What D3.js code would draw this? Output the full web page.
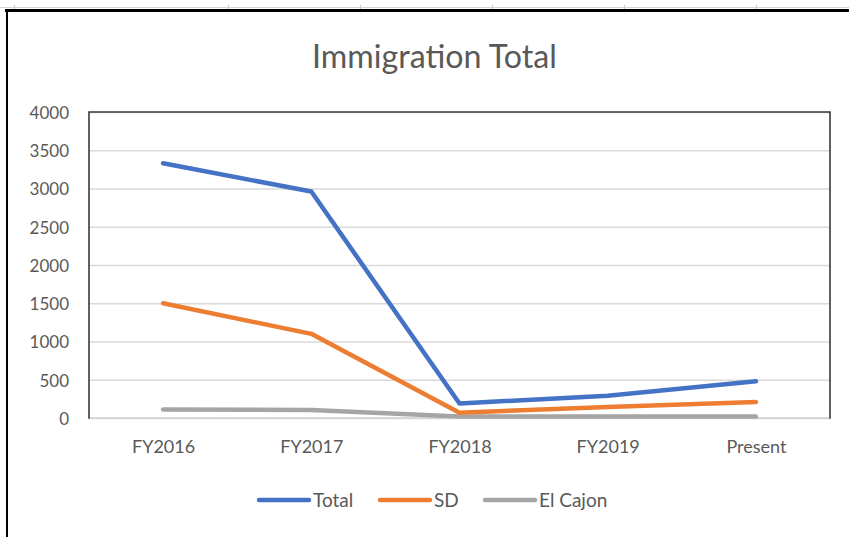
<!DOCTYPE html>
<html>
<head>
<meta charset="utf-8">
<script src="https://cdn.jsdelivr.net/npm/d3@7"></script>
<style>
  html, body { margin: 0; padding: 0; background: #fff; }
  svg { display: block; }
  text { font-family: Lato, "Open Sans", sans-serif; fill: #595959; }
</style>
</head>
<body>
<svg id="chart" width="849" height="537"></svg>
<script>
const categories = ["FY2016", "FY2017", "FY2018", "FY2019", "Present"];
const totalValues = [3330, 2960, 190, 290, 480];
const sdValues = [1500, 1100, 70, 145, 210];
const elCajonValues = [110, 105, 20, 20, 20];
const yTicks = [0, 500, 1000, 1500, 2000, 2500, 3000, 3500, 4000];
const seriesNames = ["Total", "SD", "El Cajon"];
const seriesColors = ["#4472C4", "#ED7D31", "#A5A5A5"];
const titleText = "Immigration Total";

const series = [totalValues, sdValues, elCajonValues].map((v, i) => ({
  name: seriesNames[i], color: seriesColors[i], values: v
}));

const svg = d3.select("#chart");
const W = 849, H = 537;
const plot = { left: 89, right: 830, top: 112, bottom: 418 };

// spreadsheet background marks
svg.append("line").attr("x1", 0).attr("x2", W).attr("y1", 7.5).attr("y2", 7.5)
  .attr("stroke", "#d4d4d4").attr("stroke-width", 1);
[14, 228, 360, 492, 624, 756].forEach(x => {
  svg.append("line").attr("x1", x + 0.5).attr("x2", x + 0.5).attr("y1", 5).attr("y2", 9)
    .attr("stroke", "#c8c8c8").attr("stroke-width", 1);
});
// chart frame (top thick, left)
svg.append("line").attr("x1", 5).attr("x2", W).attr("y1", 10.5).attr("y2", 10.5)
  .attr("stroke", "#000").attr("stroke-width", 3);
svg.append("line").attr("x1", 7).attr("x2", 7).attr("y1", 9).attr("y2", H)
  .attr("stroke", "#000").attr("stroke-width", 2);

const x = d3.scalePoint().domain(categories)
  .range([plot.left, plot.right]).padding(0.5);
const y = d3.scaleLinear().domain([0, 4000]).range([plot.bottom, plot.top]);

// gridlines
const grid = svg.append("g")
  .attr("transform", `translate(${plot.left},0)`)
  .call(d3.axisLeft(y).tickValues(yTicks).tickSize(-(plot.right - plot.left)).tickFormat(""));
grid.select(".domain").remove();
grid.selectAll(".tick line").attr("stroke", "#d9d9d9").attr("stroke-width", 1.3);

// y tick labels
const yAxis = svg.append("g")
  .attr("transform", `translate(${plot.left - 20},0)`)
  .call(d3.axisLeft(y).tickValues(yTicks).tickSize(0).tickPadding(0).tickFormat(d3.format("d")));
yAxis.select(".domain").remove();
yAxis.selectAll("text").attr("font-size", 17).attr("fill", "#595959")
  .attr("font-family", "Lato, sans-serif").attr("dy", "0.38em");

// x tick labels
const xAxis = svg.append("g")
  .attr("transform", `translate(0,${plot.bottom})`)
  .call(d3.axisBottom(x).tickSize(0).tickPadding(0));
xAxis.select(".domain").remove();
xAxis.selectAll("text").attr("font-size", 18).attr("fill", "#595959")
  .attr("font-family", "Lato, sans-serif").attr("dy", null).attr("y", 35);

// plot border: dark on top, left, right; light category axis at bottom
svg.append("line").attr("x1", plot.left).attr("x2", plot.right)
  .attr("y1", plot.bottom).attr("y2", plot.bottom)
  .attr("stroke", "#d0d0d0").attr("stroke-width", 1.6);
svg.append("path")
  .attr("d", `M${plot.left},${plot.bottom + 0.8}V${plot.top}H${plot.right}V${plot.bottom + 0.8}`)
  .attr("fill", "none").attr("stroke", "#3a3a3a").attr("stroke-width", 1.6);

// lines
const line = d3.line().x((d, i) => x(categories[i])).y(d => y(d));
svg.append("g").selectAll("path").data(series.slice().reverse()).join("path")
  .attr("d", d => line(d.values))
  .attr("fill", "none").attr("stroke", d => d.color)
  .attr("stroke-width", 4.5).attr("stroke-linecap", "round").attr("stroke-linejoin", "round");

// title
const title = svg.append("text").attr("x", 434.5).attr("y", 68)
  .attr("text-anchor", "middle").attr("font-size", 30).attr("fill", "#595959")
  .text(titleText);
const tw = title.node().getComputedTextLength();
title.attr("font-size", 30 * 245 / tw);

// legend
const legendX = [259, 380, 485];
const lg = svg.append("g").selectAll("g").data(series).join("g")
  .attr("transform", (d, i) => `translate(${legendX[i]},500)`);
lg.append("line").attr("x1", 0).attr("x2", 50).attr("y1", 0).attr("y2", 0)
  .attr("stroke", d => d.color).attr("stroke-width", 4.5).attr("stroke-linecap", "round");
lg.append("text").attr("x", 54).attr("y", 7).attr("font-size", 19).attr("fill", "#595959")
  .text(d => d.name);
</script>
</body>
</html>
